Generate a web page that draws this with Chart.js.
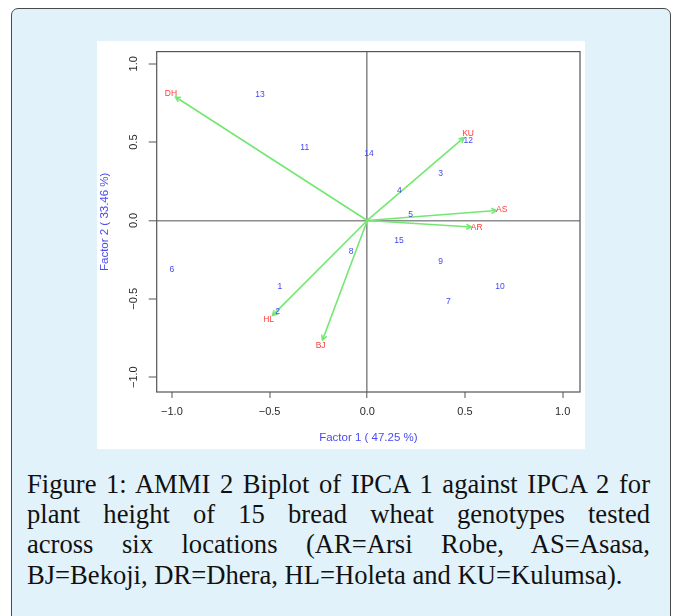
<!DOCTYPE html>
<html>
<head>
<meta charset="utf-8">
<script src="https://cdn.jsdelivr.net/npm/chart.js@4.4.1/dist/chart.umd.min.js"></script>
<style>
  html, body { margin: 0; padding: 0; background: #fff; }
  #box {
    position: absolute; left: 11px; top: 8px; width: 658px; height: 640px;
    border: 1.5px solid #4a4a4a; border-radius: 7px; background: #e1f2fb;
  }
  #panel {
    position: absolute; left: 97px; top: 41px; width: 488px; height: 408px; background: #fff;
  }
  #caption {
    position: absolute; left: 27px; top: 469px; width: 623px;
    font-family: "Liberation Serif", serif; font-size: 26.6px; line-height: 30.2px; color: #111;
  }
  #caption div { text-align: justify; text-align-last: justify; white-space: nowrap; }
  #caption div.last { text-align-last: left; }
</style>
</head>
<body>
<div id="box"></div>
<div id="panel"><canvas id="c" width="488" height="408"></canvas></div>
<div id="caption">
  <div>Figure 1: AMMI 2 Biplot of IPCA 1 against IPCA 2 for</div>
  <div>plant height of 15 bread wheat genotypes tested</div>
  <div>across six locations (AR=Arsi Robe, AS=Asasa,</div>
  <div class="last">BJ=Bekoji, DR=Dhera, HL=Holeta and KU=Kulumsa).</div>
</div>
<script>
// genotype scores (IPCA1, IPCA2)
const genotypeLabels = ['1', '2', '3', '4', '5', '6', '7', '8', '9', '10', '11', '12', '13', '14', '15'];
const genotypeX = [-0.447, -0.459, 0.376, 0.164, 0.222, -1.0, 0.415, -0.083, 0.376, 0.679, -0.320, 0.517, -0.549, 0.009, 0.162];
const genotypeY = [-0.421, -0.584, 0.301, 0.189, 0.034, -0.315, -0.521, -0.197, -0.260, -0.421, 0.462, 0.511, 0.805, 0.428, -0.129];

// environment scores
const envLabels = ['AR', 'AS', 'BJ', 'DH', 'HL', 'KU'];
const envX = [0.560, 0.688, -0.239, -1.005, -0.505, 0.516];
const envY = [-0.044, 0.066, -0.796, 0.807, -0.631, 0.551];

const xTicks = [-1.0, -0.5, 0.0, 0.5, 1.0];
const yTicks = [-1.0, -0.5, 0.0, 0.5, 1.0];
const xTitle = 'Factor 1 ( 47.25 %)';
const yTitle = 'Factor 2 ( 33.46 %)';

const GENO_COL = '#4646f2';
const ENV_COL = '#ff3c3c';
const VEC_COL = '#72e872';
const TITLE_COL = '#4a4af0';

function fmtTick(v) {
  return v < 0 ? '\u2212' + Math.abs(v).toFixed(1) : v.toFixed(1);
}

const biplotText = {
  id: 'biplotText',
  beforeDatasetsDraw(chart) {
    const { ctx, chartArea: a } = chart;
    ctx.save();
    ctx.strokeStyle = '#555';
    ctx.lineWidth = 1.2;
    ctx.strokeRect(a.left, a.top, a.right - a.left, a.bottom - a.top);
    ctx.restore();
  },
  afterDatasetsDraw(chart) {
    const { ctx, scales } = chart;
    const ox = scales.x.getPixelForValue(0);
    const oy = scales.y.getPixelForValue(0);

    // environment vectors
    const envMeta = chart.getDatasetMeta(1);
    ctx.save();
    ctx.strokeStyle = VEC_COL;
    ctx.lineWidth = 1.6;
    envMeta.data.forEach((pt) => {
      const dx = pt.x - ox, dy = pt.y - oy;
      const len = Math.hypot(dx, dy);
      const gap = 5.5;
      const tx = ox + dx * (len - gap) / len;
      const ty = oy + dy * (len - gap) / len;
      ctx.beginPath();
      ctx.moveTo(ox, oy);
      ctx.lineTo(tx, ty);
      ctx.stroke();
      const ang = Math.atan2(ty - oy, tx - ox);
      const h = 5.5;
      ctx.beginPath();
      ctx.moveTo(tx - h * Math.cos(ang - 0.5), ty - h * Math.sin(ang - 0.5));
      ctx.lineTo(tx, ty);
      ctx.lineTo(tx - h * Math.cos(ang + 0.5), ty - h * Math.sin(ang + 0.5));
      ctx.stroke();
    });

    ctx.textAlign = 'center';
    ctx.textBaseline = 'middle';
    ctx.font = '8.5px "Liberation Sans", Arial, sans-serif';
    ctx.fillStyle = ENV_COL;
    envMeta.data.forEach((pt, i) => ctx.fillText(envLabels[i], pt.x, pt.y));

    const genoMeta = chart.getDatasetMeta(0);
    ctx.fillStyle = GENO_COL;
    genoMeta.data.forEach((pt, i) => ctx.fillText(genotypeLabels[i], pt.x, pt.y));
    ctx.restore();
  },
};

const zeroGrid = {
  drawOnChartArea: true,
  drawTicks: true,
  color: (c) => (c.tick && c.tick.value === 0 ? '#8c8c8c' : 'rgba(0,0,0,0)'),
  lineWidth: (c) => (c.tick && c.tick.value === 0 ? 1.6 : 0),
  tickColor: '#555',
  tickWidth: 1,
};

new Chart(document.getElementById('c'), {
  type: 'scatter',
  data: {
    datasets: [
      {
        label: 'genotypes',
        data: genotypeX.map((x, i) => ({ x, y: genotypeY[i] })),
        pointRadius: 0,
      },
      {
        label: 'environments',
        data: envX.map((x, i) => ({ x, y: envY[i] })),
        pointRadius: 0,
      },
    ],
  },
  options: {
    responsive: false,
    animation: false,
    layout: { padding: { top: 9, right: 5, left: 0, bottom: 0 } },
    plugins: { legend: { display: false }, tooltip: { enabled: false } },
    scales: {
      x: {
        min: -1.078,
        max: 1.089,
        afterBuildTicks: (s) => { s.ticks = xTicks.map((v) => ({ value: v })); },
        afterFit: (s) => { s.height = 57; },
        grid: { ...zeroGrid, tickLength: 6 },
        border: { display: false },
        ticks: {
          callback: fmtTick,
          color: '#2a2a2a',
          padding: 7,
          maxRotation: 0,
          font: { family: '"Liberation Sans", Arial, sans-serif', size: 11 },
        },
        title: {
          display: true,
          text: xTitle,
          color: TITLE_COL,
          padding: { top: 0, bottom: 4.4 },
          font: { family: '"Liberation Sans", Arial, sans-serif', size: 11.5 },
        },
      },
      y: {
        min: -1.095,
        max: 1.078,
        afterBuildTicks: (s) => { s.ticks = yTicks.map((v) => ({ value: v })); },
        afterFit: (s) => { s.width = 59.7; },
        grid: { ...zeroGrid, tickLength: 8 },
        border: { display: false },
        ticks: {
          callback: fmtTick,
          color: '#2a2a2a',
          padding: 4,
          minRotation: 90,
          maxRotation: 90,
          crossAlign: 'center',
          font: { family: '"Liberation Sans", Arial, sans-serif', size: 11 },
        },
        title: {
          display: true,
          text: yTitle,
          color: TITLE_COL,
          padding: { top: 1.4, bottom: 0 },
          font: { family: '"Liberation Sans", Arial, sans-serif', size: 11.5 },
        },
      },
    },
  },
  plugins: [biplotText],
});
</script>
</body>
</html>
